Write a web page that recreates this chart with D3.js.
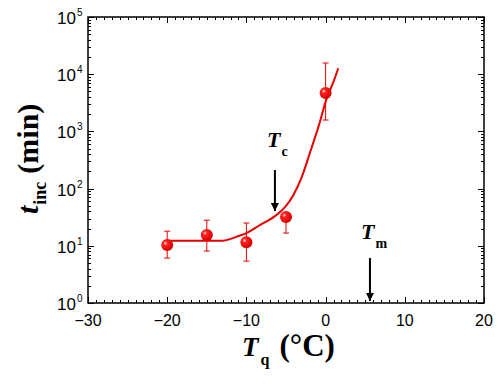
<!DOCTYPE html>
<html>
<head>
<meta charset="utf-8">
<script src="https://cdn.jsdelivr.net/npm/d3@7"></script>
<style>
  body { margin: 0; background: #fff; }
  svg { display: block; }
</style>
</head>
<body>
<svg width="500" height="387"></svg>
<script>
// quench temperature (°C) and incubation time (min)
const tempQ = [-20, -15, -10, -5, 0];
const tInc = [10.3, 15.5, 11.5, 31.9, 4700];
const errLow = [6.1, 8.1, 5.4, 16.7, 1580];
const errHigh = [18, 28, 25, 38, 15700];

// fitted curve
const fitT = [-20, -13, -12, -11, -10, -8.3, -6.4, -5.1, -4.1, -3, -2, -0.9, 0.1, 1, 1.6];
const fitV = [12.3, 12.3, 13.2, 14.8, 16.7, 23, 33, 48, 76, 161, 414, 1210, 3630, 7400, 12700];

const xTicks = [-30, -20, -10, 0, 10, 20];
const yExps = [0, 1, 2, 3, 4, 5];

// arrows: Tc and Tm
const arrowT = [-6.4, 5.6];
const arrowTop = [170, 258];
const arrowTip = [211, 301];

const svg = d3.select("svg");
const pLeft = 88, pRight = 484, pTop = 17, pBottom = 303;

const x = d3.scaleLinear().domain([-30, 20]).range([pLeft, pRight]);
const y = d3.scaleLog().domain([1, 1e5]).range([pBottom, pTop]);

const red = "#e60000";

// gradient for the balls
const defs = svg.append("defs");
const grad = defs.append("radialGradient")
	.attr("id", "ball")
	.attr("cx", "35%").attr("cy", "35%").attr("r", "65%");
grad.append("stop").attr("offset", "0%").attr("stop-color", "#ffd8d8");
grad.append("stop").attr("offset", "28%").attr("stop-color", "#ff2020");
grad.append("stop").attr("offset", "100%").attr("stop-color", "#d80000");

defs.append("marker")
	.attr("id", "head")
	.attr("viewBox", "0 0 10 10")
	.attr("refX", 10).attr("refY", 5)
	.attr("markerWidth", 4).attr("markerHeight", 4)
	.attr("markerUnits", "strokeWidth")
	.attr("orient", "auto")
	.append("path")
	.attr("d", "M0,0 L10,5 L0,10 Z")
	.attr("fill", "#000");

//ticks on all four sides, pointing inward
const minorX = d3.range(-30, 21, 1);
const minorY = [];
for (let e = 0; e < 5; e++) {
	for (let k = 1; k < 10; k++) minorY.push(k * Math.pow(10, e));
}
minorY.push(1e5);

const ticks = svg.append("g").attr("stroke", "#000").attr("stroke-width", 1);

minorX.forEach(v => {
	const len = v % 10 === 0 ? 6 : 3;
	const px = Math.round(x(v)) + 0.5;
	ticks.append("line").attr("x1", px).attr("x2", px).attr("y1", pBottom).attr("y2", pBottom - len);
	ticks.append("line").attr("x1", px).attr("x2", px).attr("y1", pTop).attr("y2", pTop + len);
});

minorY.forEach(v => {
	const major = Math.abs(Math.log10(v) - Math.round(Math.log10(v))) < 1e-9;
	const len = major ? 6 : 3;
	const py = Math.round(y(v)) + 0.5;
	ticks.append("line").attr("x1", pLeft).attr("x2", pLeft + len).attr("y1", py).attr("y2", py);
	ticks.append("line").attr("x1", pRight).attr("x2", pRight - len).attr("y1", py).attr("y2", py);
});

// frame
svg.append("rect")
	.attr("x", pLeft).attr("y", pTop)
	.attr("width", pRight - pLeft).attr("height", pBottom - pTop)
	.attr("fill", "none").attr("stroke", "#000").attr("stroke-width", 1.5);

// tick labels
svg.append("g")
	.selectAll("text")
	.data(xTicks)
	.join("text")
	.attr("x", d => x(d))
	.attr("y", pBottom + 23)
	.attr("text-anchor", "middle")
	.attr("font-family", "Liberation Sans, Arial, sans-serif")
	.attr("font-size", 16)
	.text(d => d < 0 ? "\u2212" + Math.abs(d) : d);

const yl = svg.append("g")
	.selectAll("text")
	.data(yExps)
	.join("text")
	.attr("font-family", "Liberation Sans, Arial, sans-serif")
	.attr("font-size", 17);
yl.append("tspan")
	.attr("x", 57)
	.attr("y", d => y(Math.pow(10, d)) + 7)
	.text("10");
yl.append("tspan")
	.attr("font-size", 10)
	.attr("dx", 1)
	.attr("dy", -8)
	.text(d => d);

// fitted curve
const fitLine = d3.line()
	.x((d, i) => x(fitT[i]))
	.y(d => y(d))
	.curve(d3.curveMonotoneX);

svg.append("path")
	.attr("d", fitLine(fitV))
	.attr("fill", "none")
	.attr("stroke", red)
	.attr("stroke-width", 2);

// error bars
const eb = svg.append("g").attr("stroke", red).attr("stroke-width", 1);
tempQ.forEach((t, i) => {
	const px = x(t);
	eb.append("line").attr("x1", px).attr("x2", px).attr("y1", y(errLow[i])).attr("y2", y(errHigh[i]));
	eb.append("line").attr("x1", px - 3).attr("x2", px + 3).attr("y1", y(errLow[i])).attr("y2", y(errLow[i]));
	eb.append("line").attr("x1", px - 3).attr("x2", px + 3).attr("y1", y(errHigh[i])).attr("y2", y(errHigh[i]));
});

// points
svg.append("g")
	.selectAll("circle")
	.data(tInc)
	.join("circle")
	.attr("cx", (d, i) => x(tempQ[i]))
	.attr("cy", d => y(d))
	.attr("r", 6)
	.attr("fill", "url(#ball)");

// arrows
arrowT.forEach((t, i) => {
	svg.append("line")
		.attr("x1", x(t)).attr("x2", x(t))
		.attr("y1", arrowTop[i]).attr("y2", arrowTip[i])
		.attr("stroke", "#000").attr("stroke-width", 2)
		.attr("marker-end", "url(#head)");
});

const serif = "Liberation Serif, Times New Roman, serif";

function subLabel(px, py, main, sub, size, subSize) {
	const t = svg.append("text")
		.attr("x", px).attr("y", py)
		.attr("font-family", serif)
		.attr("font-weight", "bold");
	t.append("tspan").attr("font-style", "italic").attr("font-size", size).text(main);
	t.append("tspan").attr("font-size", subSize).attr("dx", 1).attr("dy", 9).text(sub);
	return t;
}

subLabel(267, 147, "T", "c", 22, 14);
subLabel(361, 239, "T", "m", 22, 14);

// x axis title
const xt = svg.append("text")
	.attr("x", 242).attr("y", 356)
	.attr("font-family", serif)
	.attr("font-weight", "bold");
xt.append("tspan").attr("font-style", "italic").attr("font-size", 27).text("T");
xt.append("tspan").attr("font-size", 16).attr("dx", 2).attr("dy", 9).text("q");
xt.append("tspan").attr("font-size", 31).attr("dx", 10).attr("dy", -9).text("(°C)");

// y axis title
const yt = svg.append("text")
	.attr("transform", "translate(38,214) rotate(-90)")
	.attr("font-family", serif)
	.attr("font-weight", "bold");
yt.append("tspan").attr("font-style", "italic").attr("font-size", 30).text("t");
yt.append("tspan").attr("font-size", 18).attr("dx", 1).attr("dy", 8).text("inc");
yt.append("tspan").attr("font-size", 30).attr("dx", 8).attr("dy", -8).text("(min)");
</script>
</body>
</html>
